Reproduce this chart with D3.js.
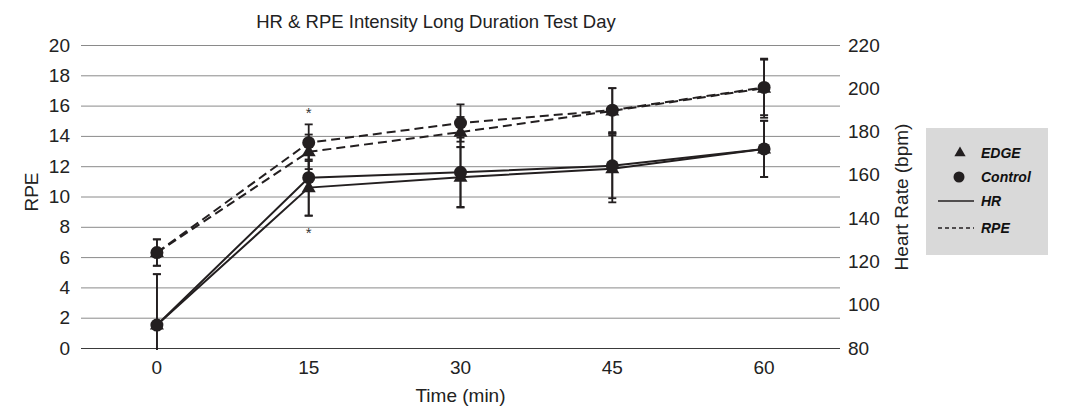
<!DOCTYPE html>
<html>
<head>
<meta charset="utf-8">
<script src="https://cdn.jsdelivr.net/npm/d3@7"></script>
<style>
  body { margin: 0; background: #fff; }
  svg { display: block; font-family: "Liberation Sans", Arial, sans-serif; }
</style>
</head>
<body>
<svg id="chart" width="1072" height="409"></svg>
<script>
// time points (min)
const times = ["0", "15", "30", "45", "60"];
// RPE (left axis)
const rpeEdge = [6.3, 12.95, 14.25, 15.65, 17.15];
const rpeEdgeSD = [0.87, 1.14, 1.0, 1.5, 1.95];
const rpeControl = [6.3, 13.55, 14.85, 15.7, 17.2];
const rpeControlSD = [0.87, 1.21, 1.23, 1.45, 1.83];
// heart rate (right axis)
const hrEdge = [90.6, 154.1, 158.9, 162.8, 172.0];
const hrEdgeSD = [23.5, 13, 14, 15.5, 13];
const hrControl = [90.6, 158.7, 161.2, 164.2, 172.0];
const hrControlSD = [23.5, 17.5, 16, 15, 13];
const rpeTicks = [0, 2, 4, 6, 8, 10, 12, 14, 16, 18, 20];
const hrTicks = [80, 100, 120, 140, 160, 180, 200, 220];
// significance marks at 15 min
const starTimes = ["15"];

const ink = "#231f20";
const svg = d3.select("#chart");
const plotL = 81, plotR = 840, plotT = 45, plotB = 348;

const x = d3.scaleBand().domain(times).range([plotL, plotR]);
const yL = d3.scaleLinear().domain([0, 20]).range([plotB, plotT]);
const yR = d3.scaleLinear().domain([80, 220]).range([plotB, plotT]);
const cx = t => x(t) + x.bandwidth() / 2;

// title
svg.append("text")
  .attr("x", 436).attr("y", 28)
  .attr("text-anchor", "middle").style("font-size", "18.5px").attr("fill", "#222")
  .text("HR & RPE Intensity Long Duration Test Day");

// gridlines
svg.append("g").selectAll("line").data(rpeTicks).join("line")
  .attr("x1", plotL).attr("x2", plotR)
  .attr("y1", d => yL(d) + 0.5).attr("y2", d => yL(d) + 0.5)
  .attr("stroke", d => d === 0 ? "#3a3a3a" : "#8a8a8a").attr("stroke-width", 1);

// axes
const axL = svg.append("g").attr("transform", `translate(${plotL},0)`)
  .call(d3.axisLeft(yL).tickValues(rpeTicks).tickSize(0).tickPadding(11));
const axR = svg.append("g").attr("transform", `translate(${plotR},0)`)
  .call(d3.axisRight(yR).tickValues(hrTicks).tickSize(0).tickPadding(8));
const axB = svg.append("g").attr("transform", `translate(0,${plotB})`)
  .call(d3.axisBottom(x).tickSize(0).tickPadding(13));
[axL, axR, axB].forEach(a => {
  a.select(".domain").remove();
  a.attr("font-family", null).attr("font-size", null);
  a.selectAll("text").style("font-size", "19px").attr("fill", "#222");
});

// axis titles
svg.append("text")
  .attr("transform", `translate(38,192) rotate(-90)`)
  .attr("text-anchor", "middle").style("font-size", "19px").attr("fill", "#222")
  .text("RPE");
svg.append("text")
  .attr("transform", `translate(908,197) rotate(-90)`)
  .attr("text-anchor", "middle").style("font-size", "19px").attr("fill", "#222")
  .text("Heart Rate (bpm)");
svg.append("text")
  .attr("x", (plotL + plotR) / 2).attr("y", 402)
  .attr("text-anchor", "middle").style("font-size", "19px").attr("fill", "#222")
  .text("Time (min)");

// series
const series = [
  { v: rpeEdge, sd: rpeEdgeSD, y: yL, dash: "9,5", marker: "tri" },
  { v: rpeControl, sd: rpeControlSD, y: yL, dash: "9,5", marker: "circ" },
  { v: hrEdge, sd: hrEdgeSD, y: yR, dash: null, marker: "tri" },
  { v: hrControl, sd: hrControlSD, y: yR, dash: null, marker: "circ" }
];

svg.append("clipPath").attr("id", "plotclip")
  .append("rect").attr("x", 0).attr("y", plotT - 1).attr("width", 1072).attr("height", plotB - plotT + 3);

const errG = svg.append("g").attr("clip-path", "url(#plotclip)");
series.forEach(s => {
  const rows = times.map((t, i) => ({ t, lo: s.v[i] - s.sd[i], hi: s.v[i] + s.sd[i] }));
  errG.append("g").selectAll("line").data(rows).join("line")
    .attr("x1", d => cx(d.t)).attr("x2", d => cx(d.t))
    .attr("y1", d => s.y(d.lo)).attr("y2", d => s.y(d.hi))
    .attr("stroke", ink).attr("stroke-width", 1.8);
  ["lo", "hi"].forEach(k => {
    errG.append("g").selectAll("line").data(rows).join("line")
      .attr("x1", d => cx(d.t) - 4).attr("x2", d => cx(d.t) + 4)
      .attr("y1", d => s.y(d[k])).attr("y2", d => s.y(d[k]))
      .attr("stroke", ink).attr("stroke-width", 1.8);
  });
});

series.forEach(s => {
  const line = d3.line().x((d, i) => cx(times[i])).y(d => s.y(d));
  svg.append("path").datum(s.v)
    .attr("d", line).attr("fill", "none")
    .attr("stroke", ink).attr("stroke-width", 2)
    .attr("stroke-dasharray", s.dash);
});

const tri = d3.symbol().type(d3.symbolTriangle).size(85);
series.forEach(s => {
  const g = svg.append("g");
  if (s.marker === "tri") {
    g.selectAll("path").data(s.v).join("path")
      .attr("d", tri)
      .attr("transform", (d, i) => `translate(${cx(times[i])},${s.y(d) + 0.5})`)
      .attr("fill", ink);
  } else {
    g.selectAll("circle").data(s.v).join("circle")
      .attr("cx", (d, i) => cx(times[i])).attr("cy", d => s.y(d))
      .attr("r", 6.5).attr("fill", ink);
  }
});

// significance stars
starTimes.forEach(t => {
  const i = times.indexOf(t);
  svg.append("text").attr("x", cx(t)).attr("y", yL(rpeControl[i] + rpeControlSD[i]) - 6)
    .attr("text-anchor", "middle").style("font-size", "15px").attr("fill", "#333").text("*");
  svg.append("text").attr("x", cx(t)).attr("y", yR(hrEdge[i] - hrEdgeSD[i]) + 22)
    .attr("text-anchor", "middle").style("font-size", "15px").attr("fill", "#333").text("*");
});

// legend
const lg = svg.append("g");
lg.append("rect").attr("x", 926).attr("y", 128).attr("width", 122).attr("height", 127).attr("fill", "#d9d9d9");
const legendItems = [
  { label: "EDGE", kind: "tri", y: 153 },
  { label: "Control", kind: "circ", y: 177 },
  { label: "HR", kind: "solid", y: 201 },
  { label: "RPE", kind: "dash", y: 228 }
];
legendItems.forEach(d => {
  if (d.kind === "tri") {
    lg.append("path").attr("d", d3.symbol().type(d3.symbolTriangle).size(55))
      .attr("transform", `translate(960,${d.y})`).attr("fill", ink);
  } else if (d.kind === "circ") {
    lg.append("circle").attr("cx", 959).attr("cy", d.y).attr("r", 5.5).attr("fill", ink);
  } else {
    lg.append("line").attr("x1", 938).attr("x2", 974).attr("y1", d.y).attr("y2", d.y)
      .attr("stroke", ink).attr("stroke-width", 1.3)
      .attr("stroke-dasharray", d.kind === "dash" ? "4,3" : null);
  }
  lg.append("text").attr("x", 981).attr("y", d.y + 5)
    .style("font-size", "14px").style("font-weight", "bold").style("font-style", "italic")
    .attr("fill", "#111").text(d.label);
});
</script>
</body>
</html>
